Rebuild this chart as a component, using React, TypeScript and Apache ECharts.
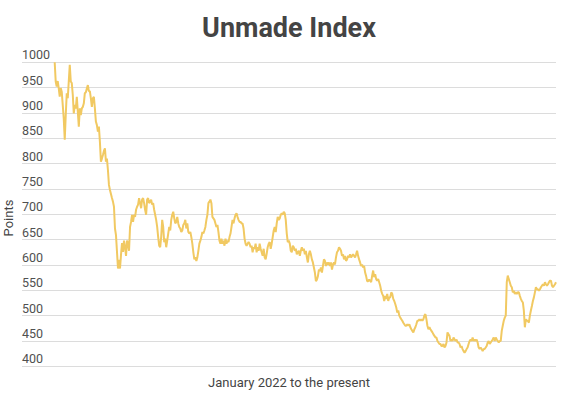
import React, { useEffect, useRef } from "react";
import * as echarts from "echarts";

// Index values, in date order (Jan 2022 -> present)
const earlySlide = [
  1000, 962, 952, 963, 949, 932, 949, 942, 916, 889, 847, 896, 939, 929, 962, 995, 962, 959, 936, 899,
  916, 909, 932, 903, 873, 909, 896, 909, 912, 919, 939, 941, 948, 955, 943, 943, 929, 912, 929, 932,
  909, 883, 876, 863, 873, 843, 804, 810, 817, 825, 830, 804, 810, 787, 758, 748, 740, 732, 725, 715,
  672, 659, 626, 593, 610, 593, 620, 643, 626,
];
const firstRebound = [
  648, 635, 618, 648, 642, 628, 675, 685, 699, 685, 699, 695, 709, 715, 719, 732, 722, 712, 729, 732,
  722, 709, 699, 729, 732, 722, 725, 729, 719, 722, 709, 699, 689, 675, 655, 638, 635, 655, 689, 675,
  645, 652, 635, 648, 662, 675, 668, 689, 699, 705, 692, 682, 685, 695, 682, 675, 672, 665, 668, 679,
  682, 689, 672, 682, 665, 662, 665, 655, 642, 625, 611, 615, 608, 615, 628, 642, 648, 655, 665, 662,
  668, 675, 689, 699, 722,
];
const midPlateau = [
  725, 729, 722, 695, 692, 689, 682, 675, 679, 665, 648, 642, 652, 642, 648, 638, 652, 642, 648, 645,
  655, 662, 675, 689, 682, 692, 699, 702, 695, 689, 685, 685, 682, 682, 672, 652, 642, 638, 642, 645,
  642, 635, 638, 625, 635, 632, 642, 625, 635, 628, 642, 632, 625, 618, 632, 615, 611, 622, 635, 642,
  645, 632, 642, 655, 668, 675, 665, 682, 695, 689, 692, 699, 702, 699, 705, 702,
];
const lateDrift = [
  689, 662, 645, 648, 642, 628, 625, 638, 635, 628, 632, 621, 625, 628, 618, 628, 635, 628, 632, 621,
  628, 615, 605, 621, 628, 621, 611, 605, 595, 585, 568, 571, 578, 591, 588, 595, 585, 598, 611, 608,
  598, 605, 601, 605, 598, 605, 591, 601, 605, 601, 615, 625, 628, 635, 632, 628, 618, 621, 611, 618,
  608, 611, 618, 615, 621, 615, 618, 621, 618, 615, 621, 628, 618, 611, 605, 598, 601, 595, 598, 585,
  578, 568, 568, 571,
];
const secondSlide = [
  569, 566, 579, 589, 576, 582, 572, 569, 572, 566, 559, 549, 543, 539, 529, 539, 533, 543, 529, 536,
  536, 546, 543, 533, 529, 523, 516, 506, 510, 500, 496, 493, 490, 486, 483, 480, 480, 483, 480, 483,
  477, 473, 470, 467, 473, 477, 483, 490, 490, 493, 490, 493, 490, 493, 500, 503, 493, 480, 473, 477,
  473, 470, 467, 463, 460, 457, 457, 450, 447, 444, 444, 440, 440, 444, 437,
];
const bottomAndRecovery = [
  440, 447, 467, 463, 460, 450, 453, 450, 457, 453, 450, 453, 447, 447, 444, 437, 440, 434, 430, 427,
  430, 434, 437, 444, 450, 453, 450, 457, 450, 453, 450, 453, 447, 437, 434, 437, 434, 430, 434, 434,
  437, 440, 447, 450, 444, 447, 450, 453, 457, 450, 457, 453, 450, 447, 450, 450, 470, 480, 490, 496,
  500, 566, 579, 572, 566, 559, 556, 546, 549, 543, 546, 543, 546, 546, 539, 533, 529, 526, 510, 477,
  493, 490, 490, 486, 500, 510, 519, 529, 536, 546, 556, 552, 552, 549, 552, 556, 559, 562, 559, 566,
  562, 559, 562, 566, 569, 569, 559, 556, 559, 562, 566,
];

const indexValues = [
  ...earlySlide,
  ...firstRebound,
  ...midPlateau,
  ...lateDrift,
  ...secondSlide,
  ...bottomAndRecovery,
];

const yTicks = [400, 450, 500, 550, 600, 650, 700, 750, 800, 850, 900, 950, 1000];
const chartTitle = "Unmade Index";
const yName = "Points";
const xName = "January 2022 to the present";

export default function App() {
  const ref = useRef<HTMLDivElement>(null);
  useEffect(() => {
    if (!ref.current) return;
    const chart = echarts.init(ref.current, null, { renderer: "svg" });
    const n = indexValues.length;
    const gridLeft = 22;
    const gridRight = 11;
    const dataStartX = 54.7;
    const plotW = 567 - gridLeft - gridRight;
    const pxPerStep = (567 - gridRight - dataStartX) / (n - 1);
    const lead = (dataStartX - gridLeft) / pxPerStep;
    const font = "Roboto, 'Noto Sans', Arial, sans-serif";
    chart.setOption({
      animation: false,
      grid: { left: gridLeft, right: gridRight, top: 62.3, bottom: 33.7 },
      xAxis: {
        type: "value",
        min: -lead,
        max: n - 1,
        show: false,
      },
      yAxis: {
        type: "value",
        min: yTicks[0],
        max: yTicks[yTicks.length - 1],
        interval: yTicks[1] - yTicks[0],
        axisLine: { show: false },
        axisTick: { show: false },
        splitLine: { show: true, lineStyle: { color: "#dcdcdc", width: 1 } },
        axisLabel: {
          inside: true,
          margin: 0,
          verticalAlign: "bottom",
          align: "left",
          padding: [0, 0, 1, 0],
          color: "#505050",
          fontSize: 12.5,
          fontFamily: font,
          formatter: (v: number) => String(v),
        },
      },
      series: [
        {
          type: "line",
          data: indexValues.map((v, i) => [i, v]),
          showSymbol: false,
          lineStyle: { color: "#F1C962", width: 2 },
          itemStyle: { color: "#F1C962" },
        },
      ],
      graphic: [
        {
          type: "text",
          x: gridLeft + plotW / 2,
          y: 28,
          style: {
            text: chartTitle,
            fill: "#444444",
            font: `bold 27px ${font}`,
            textAlign: "center",
            textVerticalAlign: "middle",
          },
        },
        {
          type: "text",
          x: 8,
          y: 218,
          rotation: Math.PI / 2,
          style: {
            text: yName,
            fill: "#444444",
            font: `13px ${font}`,
            textAlign: "center",
            textVerticalAlign: "middle",
          },
        },
        {
          type: "text",
          x: gridLeft + plotW / 2,
          y: 382,
          style: {
            text: xName,
            fill: "#444444",
            font: `13px ${font}`,
            textAlign: "center",
            textVerticalAlign: "middle",
          },
        },
      ],
    });
    return () => chart.dispose();
  }, []);
  return (
    <div
      ref={ref}
      style={{ position: "absolute", left: 0, top: 0, width: 567, height: 400 }}
    />
  );
}
